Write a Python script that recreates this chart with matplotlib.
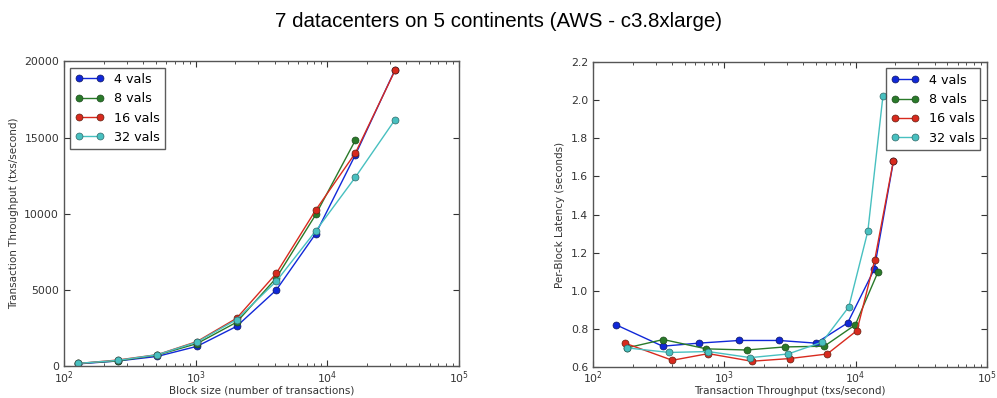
import numpy as np
import matplotlib
matplotlib.use('Agg')
import matplotlib.pyplot as plt
from matplotlib.ticker import LogLocator, NullFormatter

## Données ##
labels = ['4 vals', '8 vals', '16 vals', '32 vals']
colors = ['#1028d8', '#2a7a2a', '#d82a1e', '#48c0c0']
edges = ['#101860', '#1c4a1c', '#602010', '#306868']

block_sizes = [128, 256, 512, 1024, 2048, 4096, 8192, 16384, 32768]

# throughput (txs/second) par nombre de validateurs
tput_4 = [150, 339, 640, 1300, 2610, 4990, 8700, 13870, 19450]
tput_8 = [181, 343, 729, 1480, 2880, 5780, 9950, 14830]
tput_16 = [175, 402, 755, 1614, 3140, 6080, 10250, 13990, 19400]
tput_32 = [182, 381, 751, 1578, 3055, 5560, 8880, 12400, 16170]

# latence par bloc (secondes)
lat_4 = [0.821, 0.709, 0.725, 0.739, 0.739, 0.725, 0.831, 1.112, 1.681]
lat_8 = [0.700, 0.744, 0.695, 0.689, 0.705, 0.709, 0.821, 1.099]
lat_16 = [0.725, 0.635, 0.670, 0.630, 0.644, 0.668, 0.791, 1.161, 1.681]
lat_32 = [0.700, 0.676, 0.681, 0.649, 0.668, 0.730, 0.915, 1.312, 2.023]

tputs = [tput_4, tput_8, tput_16, tput_32]
lats = [lat_4, lat_8, lat_16, lat_32]

## Figure ##
plt.rcParams['font.family'] = 'DejaVu Sans'
fig = plt.figure(figsize=(9.97, 3.98), dpi=100)
fig.text(0.5, 0.945, '7 datacenters on 5 continents (AWS - c3.8xlarge)',
         ha='center', va='center', fontsize=14.8, family='Liberation Sans')

ax1 = fig.add_axes([0.0642, 0.080, 0.396, 0.766])
ax2 = fig.add_axes([0.5948, 0.078, 0.395, 0.766])


def style(ax):
    ax.set_xscale('log')
    ax.set_xlim(1e2, 1e5)
    ax.xaxis.set_minor_locator(LogLocator(base=10, subs=np.arange(2, 10)))
    ax.xaxis.set_minor_formatter(NullFormatter())
    ax.tick_params(which='both', direction='in', top=True, right=True,
                   labelsize=7.8, colors='#333333')
    ax.tick_params(which='major', length=4)
    ax.tick_params(which='minor', length=2)
    ax.tick_params(axis='x', pad=2)
    for s in ax.spines.values():
        s.set_color('#555555')
        s.set_linewidth(1.0)


for i in range(4):
    n = len(tputs[i])
    ax1.plot(block_sizes[:n], tputs[i], '-o', color=colors[i], lw=1,
             ms=5, mec=edges[i], mew=0.5, label=labels[i])
    ax2.plot(tputs[i], lats[i], '-o', color=colors[i], lw=1,
             ms=5, mec=edges[i], mew=0.5, label=labels[i])

style(ax1)
ax1.set_ylim(0, 20000)
ax1.set_yticks([0, 5000, 10000, 15000, 20000])
ax1.set_xlabel('Block size (number of transactions)', fontsize=7.5, color='#333333', labelpad=0)
ax1.set_ylabel('Transaction Throughput (txs/second)', fontsize=7.5, color='#333333')
leg1 = ax1.legend(loc='upper left', numpoints=2, fontsize=9.2, fancybox=False,
                  borderaxespad=0.5, handlelength=2.2)
leg1.get_frame().set_edgecolor('#333333')

style(ax2)
ax2.set_ylim(0.6, 2.2)
ax2.set_yticks(np.arange(0.6, 2.21, 0.2))
ax2.set_xlabel('Transaction Throughput (txs/second)', fontsize=7.5, color='#333333', labelpad=0)
ax2.set_ylabel('Per-Block Latency (seconds)', fontsize=7.5, color='#333333')
leg2 = ax2.legend(loc='upper right', numpoints=2, fontsize=9.2, fancybox=False,
                  borderaxespad=0.5, handlelength=2.2)
leg2.get_frame().set_edgecolor('#333333')

plt.savefig('out.png', dpi=100)
